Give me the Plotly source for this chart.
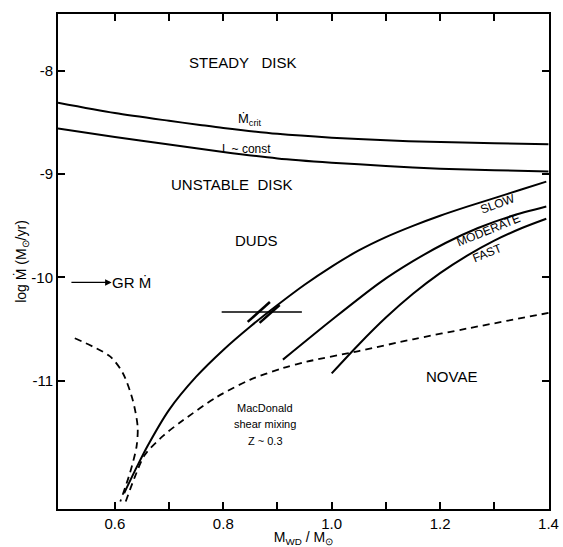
import plotly.graph_objects as go

# ---- data ----
mcrit_x = [0.495, 0.6, 0.7, 0.757, 0.8, 0.9, 1.0, 1.1, 1.181, 1.3, 1.4]
mcrit_y = [-8.31, -8.41, -8.485, -8.525, -8.554, -8.611, -8.648, -8.674, -8.688, -8.702, -8.712]

lconst_x = [0.495, 0.6, 0.7, 0.8, 0.9, 1.0, 1.1, 1.2, 1.3, 1.4]
lconst_y = [-8.56, -8.642, -8.715, -8.787, -8.849, -8.89, -8.922, -8.948, -8.963, -8.975]

slow_x = [0.617, 0.64, 0.66, 0.70, 0.75, 0.80, 0.85, 0.90, 0.95, 1.00, 1.05, 1.10, 1.15, 1.20, 1.25, 1.30,
          1.35, 1.396]
slow_y = [-12.09, -11.84, -11.635, -11.283, -10.962, -10.703, -10.476, -10.268, -10.072, -9.896, -9.740,
          -9.611, -9.502, -9.404, -9.316, -9.233, -9.150, -9.074]

moderate_x = [0.91, 1.0, 1.089, 1.15, 1.21, 1.27, 1.33, 1.396]
moderate_y = [-10.797, -10.413, -10.051, -9.844, -9.668, -9.523, -9.409, -9.315]

fast_x = [1.0, 1.05, 1.10, 1.15, 1.20, 1.25, 1.30, 1.35, 1.396]
fast_y = [-10.93, -10.65, -10.39, -10.16, -9.96, -9.79, -9.645, -9.525, -9.433]

macdonald_x = [0.620, 0.637, 0.655, 0.69, 0.725, 0.788, 0.849, 0.910, 0.954, 1.05, 1.15, 1.25, 1.4]
macdonald_y = [-12.17, -11.93, -11.72, -11.53, -11.387, -11.159, -10.993, -10.879, -10.817, -10.714,
               -10.600, -10.496, -10.345]

low_x = [0.526, 0.591, 0.615, 0.633, 0.642, 0.640, 0.628, 0.610]
low_y = [-10.59, -10.766, -10.931, -11.19, -11.449, -11.636, -11.89, -12.17]

errbar_x = [0.797, 0.945]
errbar_y = [-10.336, -10.336]
stroke1_x = [0.845, 0.886]
stroke1_y = [-10.432, -10.239]
stroke2_x = [0.867, 0.904]
stroke2_y = [-10.441, -10.268]

x_ticks = [0.6, 0.8, 1.0, 1.2, 1.4]
x_ticktext = ["0.6", "0.8", "1.0", "1.2", "1.4"]
x_minor_ticks = [0.7, 0.9, 1.1, 1.3]
y_ticks = [-8, -9, -10, -11]
y_ticktext = ["-8", "-9", "-10", "-11"]

FONT = "Liberation Sans"
solid = dict(color="black", width=2)
dashed = dict(color="black", width=1.8, dash="7px,5px")

fig = go.Figure()
for xs, ys, ln in [
    (mcrit_x, mcrit_y, solid),
    (lconst_x, lconst_y, solid),
    (slow_x, slow_y, solid),
    (moderate_x, moderate_y, solid),
    (fast_x, fast_y, solid),
    (macdonald_x, macdonald_y, dashed),
    (low_x, low_y, dashed),
    (errbar_x, errbar_y, dict(color="black", width=1.5)),
    (stroke1_x, stroke1_y, dict(color="black", width=2.5)),
    (stroke2_x, stroke2_y, dict(color="black", width=2.5)),
]:
    fig.add_trace(go.Scatter(x=xs, y=ys, mode="lines", line=dict(shape="spline", smoothing=0.8, **ln),
                             showlegend=False, hoverinfo="skip"))

def label(x, y, text, size=15, angle=0):
    fig.add_annotation(x=x, y=y, xref="x", yref="y", text=text, showarrow=False,
                       font=dict(family=FONT, size=size, color="black"), textangle=angle)

NB = "\u00a0"
label(0.836, -7.92, "STEADY" + NB * 3 + "DISK")
label(0.849, -8.47, "Ṁ<sub>crit</sub>", size=13)
label(0.843, -8.755, "L ~ const", size=12)
label(0.816, -9.10, "UNSTABLE" + NB * 2 + "DISK")
label(0.862, -9.645, "DUDS")
label(0.630, -10.05, "GR Ṁ")
label(1.221, -10.962, "NOVAE")
label(1.306, -9.295, "SLOW", size=12, angle=-20)
label(1.290, -9.545, "MODERATE", size=12, angle=-22)
label(1.288, -9.765, "FAST", size=12, angle=-22)
label(0.877, -11.262, "MacDonald", size=11)
label(0.877, -11.418, "shear mixing", size=11)
label(0.877, -11.584, "Z ~ 0.3", size=11)

fig.add_annotation(x=0.594, y=-10.05, ax=0.517, ay=-10.05, xref="x", yref="y", axref="x", ayref="y",
                   text="", showarrow=True, arrowhead=2, arrowsize=1, arrowwidth=1.3, arrowcolor="black")

axis_common = dict(showgrid=False, zeroline=False, showline=True, linecolor="black", linewidth=2,
                   mirror="ticks", ticks="inside", ticklen=7, tickwidth=1.5, tickcolor="black",
                   automargin=False, tickfont=dict(family=FONT, size=15, color="black"))

fig.update_xaxes(range=[0.495, 1.401], tickmode="array", tickvals=x_ticks, ticktext=x_ticktext,
                 minor=dict(ticks="inside", tickmode="array", tickvals=x_minor_ticks, ticklen=7,
                            tickwidth=1.5, tickcolor="black", showgrid=False),
                 title=dict(text="M<sub>WD</sub> / M<sub>⊙</sub>", font=dict(family=FONT, size=14, color="black"),
                            standoff=2),
                 **axis_common)
fig.update_yaxes(range=[-12.243, -7.451], tickmode="array", tickvals=y_ticks, ticktext=y_ticktext,
                 title=dict(text="log Ṁ (M<sub>⊙</sub>/yr)", font=dict(family=FONT, size=14, color="black"),
                            standoff=0),
                 **axis_common)

fig.update_layout(width=563, height=547, margin=dict(l=58, r=14, t=14, b=38),
                  paper_bgcolor="white", plot_bgcolor="white", showlegend=False)

fig.write_html("out.html", config={"displayModeBar": False},
               post_script="document.body.style.margin='0';document.body.style.padding='0';")
